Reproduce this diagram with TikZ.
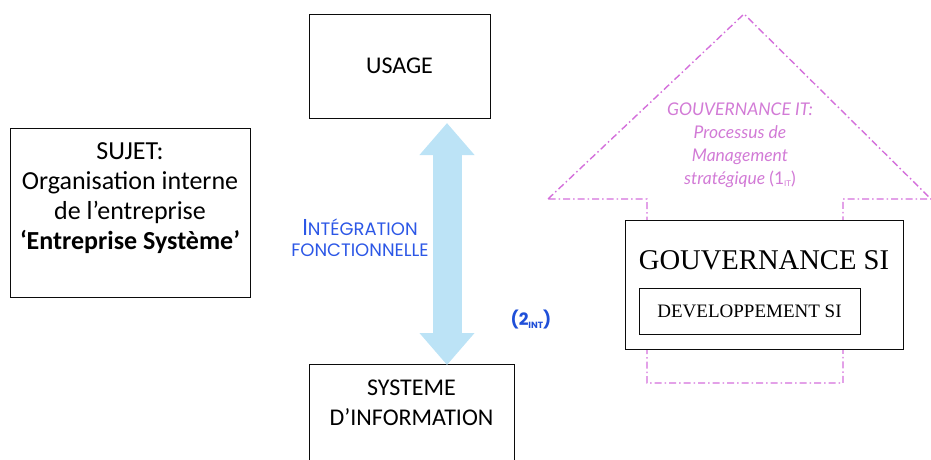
\documentclass[tikz,border=0pt]{standalone}
\usepackage{fontspec}
\setmainfont{Carlito}
\newfontfamily\serifsi{Liberation Serif}
\newfontfamily\geofont{Poppins}
\newfontfamily\pinkfont{Lato}
\usetikzlibrary{positioning,arrows.meta}
\definecolor{ink}{HTML}{0B0B0B}
\definecolor{orchid}{HTML}{D46FDB}
\definecolor{orchidtext}{HTML}{D27BD6}
\definecolor{skyarrow}{HTML}{BCE3F6}
\definecolor{integ}{HTML}{2C57E6}
\definecolor{integbold}{HTML}{1F4FD8}
\tikzset{
  box/.style={draw=ink,line width=1pt,fill=white,inner sep=0pt},
  govline/.style={draw=orchid,line width=1.4pt,dash pattern=on 7pt off 3pt on 1.5pt off 3pt},
  bigtip/.tip={Triangle[width=53pt,length=32pt]}
}

\begin{document}
\begin{tikzpicture}[x=1pt,y=-1pt]
      \useasboundingbox (0,0) rectangle (931,459);

      % gouvernance arrow (dash-dot house)
      \draw[govline] (548,199) -- (744,14) -- (931,199) -- (843,199)
        -- (843,383) -- (647,383) -- (647,199) -- cycle;

      \node[box,minimum width=240pt,minimum height=169pt] (sujet) at (130,212.5) {};
      \node[box,minimum width=181pt,minimum height=104pt,font=\fontsize{24}{28}\selectfont] (usage) at (399.5,66) {USAGE};
      \node[box,minimum width=205pt,minimum height=98pt] (sysinfo) at (411.5,413) {};
      \node[box,minimum width=278pt,minimum height=129pt] (gouv) at (764,284.5) {};
      \node[box,minimum width=221pt,minimum height=46pt,font=\serifsi\fontsize{19}{22}\selectfont] (dev) at (749.5,311) {DEVELOPPEMENT SI};

      \node[align=center,font=\fontsize{26}{30}\selectfont] (sujettxt) at (130,198) {
        SUJET:\\
        Organisation interne\\
        de l’entreprise\\
        \textbf{‘Entreprise Système’}
      };
      \node[align=center,font=\fontsize{24}{30}\selectfont] (sysinfotxt) at (411.5,403) {SYSTEME\\D’INFORMATION};
      \node[font=\serifsi\fontsize{28.6}{30}\selectfont] (gouvtxt) at (764,260) {GOUVERNANCE SI};

      \node[align=center,text=orchidtext,font=\pinkfont\itshape\fontsize{17.5}{23}\selectfont] (govit) at (740,145) {
        GOUVERNANCE IT:\\
        Processus de\\
        Management\\
        stratégique {\upshape(1\raisebox{-0.3ex}{\fontsize{8}{8}\selectfont IT})}
      };

      % integration fonctionnelle
      \coordinate (atop) at (447,123);
      \coordinate (abot) at (447,365);
      \draw[skyarrow,line width=29pt,{bigtip}-{bigtip}] (atop) -- (abot);

      \node[align=center,text=integ,font=\geofont\fontsize{18}{21}\selectfont] (integ) at (360,238) {
        {\fontsize{23}{21}\selectfont I}NTÉGRATION\\
        FONCTIONNELLE
      };
      \node[text=integbold,font=\geofont\bfseries\fontsize{17}{17}\selectfont] (int) at (531,320) {(2\raisebox{-0.3ex}{\fontsize{9}{9}\selectfont INT})};
    \end{tikzpicture}
\end{document}
